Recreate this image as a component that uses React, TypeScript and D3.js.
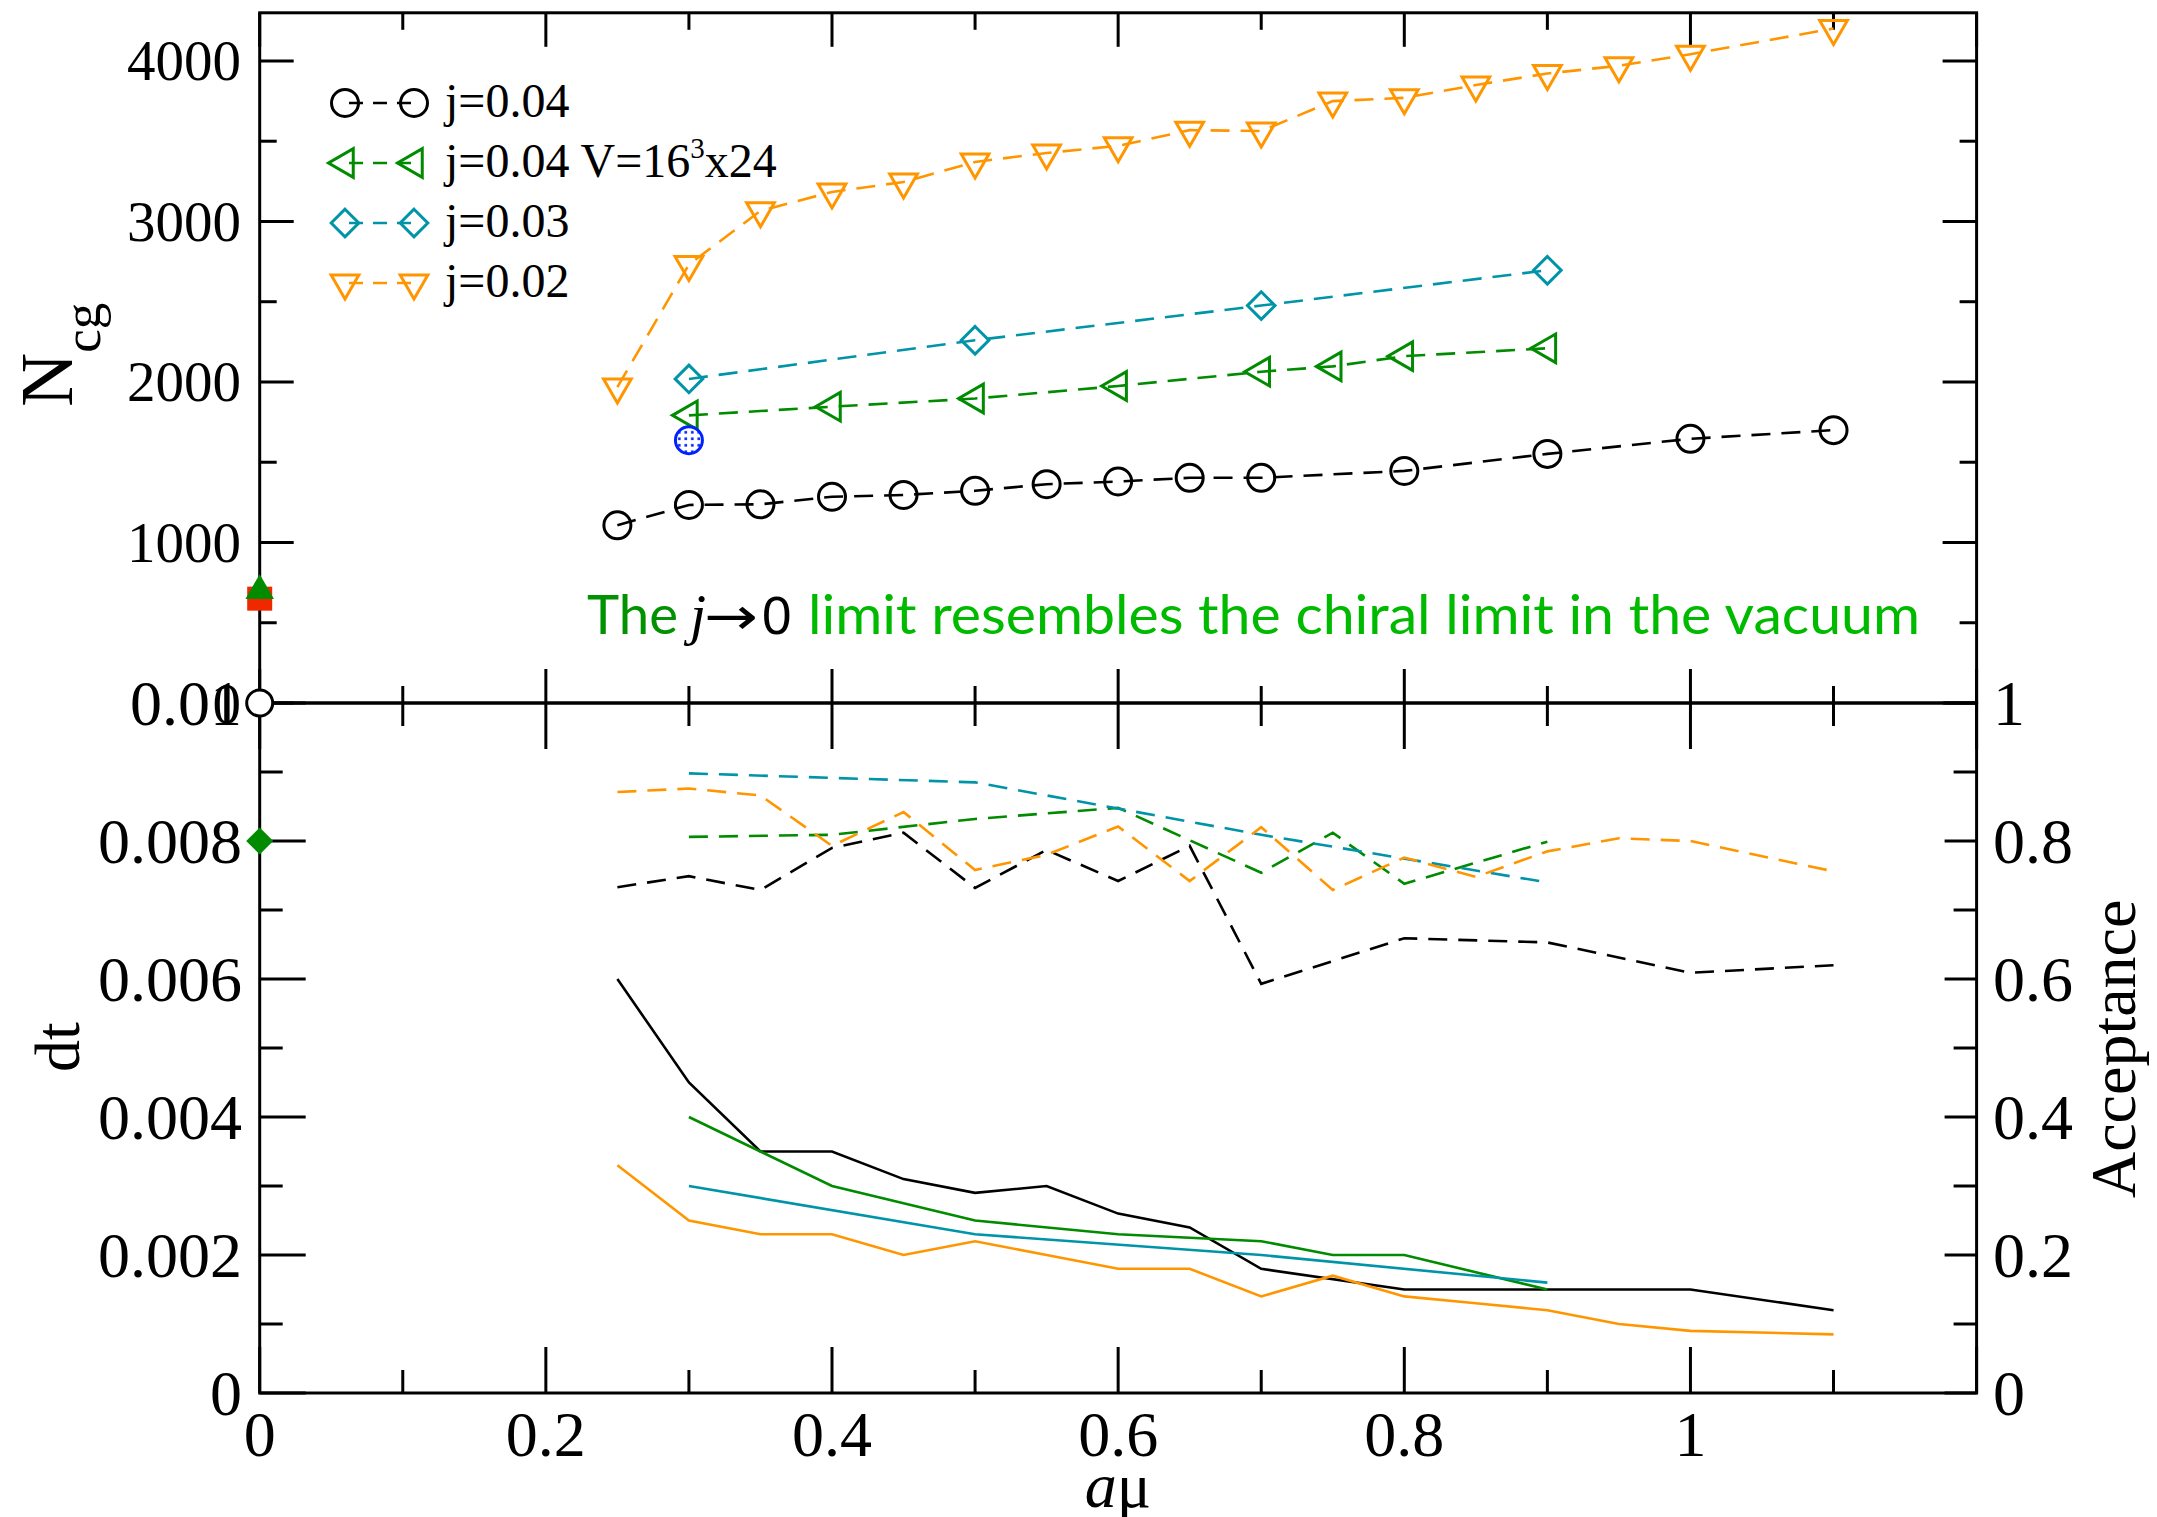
import React from 'react';
import * as d3 from 'd3';

// ---------------- data ----------------
const muJ04 = [0.25, 0.3, 0.35, 0.4, 0.45, 0.5, 0.55, 0.6, 0.65, 0.7, 0.8, 0.9, 1.0, 1.1];
const ncgJ04 = [1107, 1234, 1238, 1285, 1296, 1322, 1363, 1380, 1403, 1403, 1446, 1552, 1646, 1700];
const dtJ04 = [0.006, 0.0045, 0.0035, 0.0035, 0.0031, 0.0029, 0.003, 0.0026, 0.0024, 0.0018, 0.0015, 0.0015, 0.0015, 0.0012];
const accJ04 = [0.733, 0.749, 0.729, 0.79, 0.812, 0.732, 0.787, 0.742, 0.793, 0.593, 0.659, 0.653, 0.609, 0.62];

const muV = [0.3, 0.4, 0.5, 0.6, 0.7, 0.75, 0.8, 0.9];
const ncgV = [1792, 1846, 1897, 1975, 2064, 2097, 2161, 2210];
const dtV = [0.004, 0.003, 0.0025, 0.0023, 0.0022, 0.002, 0.002, 0.0015];
const accV = [0.806, 0.809, 0.832, 0.848, 0.754, 0.812, 0.738, 0.799];

const muJ03 = [0.3, 0.5, 0.7, 0.9];
const ncgJ03 = [2019, 2260, 2476, 2696];
const dtJ03 = [0.003, 0.0023, 0.002, 0.0016];
const accJ03 = [0.898, 0.885, 0.809, 0.74];

const muJ02 = [0.25, 0.3, 0.35, 0.4, 0.45, 0.5, 0.55, 0.6, 0.65, 0.7, 0.75, 0.8, 0.85, 0.9, 0.95, 1.0, 1.1];
const ncgJ02 = [1968, 2732, 3066, 3184, 3246, 3371, 3427, 3471, 3569, 3563, 3750, 3770, 3850, 3922, 3970, 4042, 4202];
const dtJ02 = [0.0033, 0.0025, 0.0023, 0.0023, 0.002, 0.0022, 0.002, 0.0018, 0.0018, 0.0014, 0.0017, 0.0014, 0.0013, 0.0012, 0.001, 0.0009, 0.00085];
const accJ02 = [0.871, 0.876, 0.866, 0.793, 0.842, 0.758, 0.78, 0.821, 0.742, 0.82, 0.729, 0.776, 0.748, 0.785, 0.804, 0.8, 0.756];

// single extra points
const vacuumSquare = { mu: 0, ncg: 650 };
const vacuumTriangle = { mu: 0, ncg: 700 };
const zeroCircle = { mu: 0, ncg: 0 };
const blueCircle = { mu: 0.3, ncg: 1637 };
const dtDiamond = { mu: 0, dt: 0.008 };

const legendLabels = ['j=0.04', 'j=0.04 V=16', 'j=0.03', 'j=0.02'];

// ---------------- styles ----------------
const W = 2157, H = 1517;
const X0 = 259.7, X1 = 1976.6, YT = 12.8, YM = 703, YB = 1393;
const BLACK = '#000000';
const GREEN = '#008b00';
const CYAN = '#0094a8';
const ORANGE = '#ff9600';
const SERIF = "'Liberation Serif', 'Times New Roman', serif";
const DASH = '19,11';

const triDown = (s: number) => `M${-s * 0.866},${-s / 2}L${s * 0.866},${-s / 2}L0,${s}Z`;
const triUp = (s: number) => `M${-s * 0.866},${s / 2}L${s * 0.866},${s / 2}L0,${-s}Z`;
const triLeft = (s: number) => `M${s / 2},${-s * 0.866}L${s / 2},${s * 0.866}L${-s},0Z`;
const diamond = (s: number) => `M0,${-s}L${s},0L0,${s}L${-s},0Z`;

function Marker({ kind, cx, cy, color }: { kind: string; cx: number; cy: number; color: string }) {
  const common = { fill: 'none', stroke: color, strokeWidth: 3 };
  if (kind === 'circle') return <circle cx={cx} cy={cy} r={13.5} {...common} />;
  if (kind === 'left') return <path transform={`translate(${cx},${cy})`} d={triLeft(16.5)} {...common} />;
  if (kind === 'diamond') return <path transform={`translate(${cx},${cy})`} d={diamond(13.8)} {...common} />;
  return <path transform={`translate(${cx},${cy})`} d={triDown(16)} {...common} />;
}

export default function App() {
  const x = d3.scaleLinear().domain([0, 1.2]).range([X0, X1]);
  const yN = d3.scaleLinear().domain([0, 4300]).range([YM, YT]);
  const yDt = d3.scaleLinear().domain([0, 0.01]).range([YB, YM]);
  const yAcc = d3.scaleLinear().domain([0, 1]).range([YB, YM]);

  const series = [
    { mu: muJ04, ncg: ncgJ04, dt: dtJ04, acc: accJ04, color: BLACK, kind: 'circle' },
    { mu: muV, ncg: ncgV, dt: dtV, acc: accV, color: GREEN, kind: 'left' },
    { mu: muJ03, ncg: ncgJ03, dt: dtJ03, acc: accJ03, color: CYAN, kind: 'diamond' },
    { mu: muJ02, ncg: ncgJ02, dt: dtJ02, acc: accJ02, color: ORANGE, kind: 'down' },
  ];

  const lineN = (s: any) =>
    d3.line<number>().x((_, i) => x(s.mu[i])).y((v) => yN(v))(s.ncg) || '';
  const lineDt = (s: any) =>
    d3.line<number>().x((_, i) => x(s.mu[i])).y((v) => yDt(v))(s.dt) || '';
  const lineAcc = (s: any) =>
    d3.line<number>().x((_, i) => x(s.mu[i])).y((v) => yAcc(v))(s.acc) || '';

  const xTicks = x.ticks(12);
  const isMajorX = (v: number) => Math.round(v * 10) % 2 === 0;
  const nTicks = yN.ticks(9);
  const dtTicks = yDt.ticks(10);
  const accTicks = yAcc.ticks(10);
  const isMajorDt = (v: number) => Math.round(v * 1000) % 2 === 0;
  const isMajorAcc = (v: number) => Math.round(v * 10) % 2 === 0;
  const fmt = (v: number) => (+v.toFixed(4)).toString();

  const tk = { stroke: BLACK, strokeWidth: 3 };

  return (
    <svg width={W} height={H} style={{ position: 'absolute', left: 0, top: 0, background: '#fff' }}>
      <defs>
        <pattern id="bluedots" width={6.5} height={6.5} patternUnits="userSpaceOnUse">
          <rect width={6.5} height={6.5} fill="#fff" />
          <rect x={2} y={2} width={2.6} height={2.6} fill="#0022ff" />
        </pattern>
      </defs>
      <rect width={W} height={H} fill="#fff" />

      {/* ---------- ticks top panel ---------- */}
      {xTicks.map((v) => {
        const len = isMajorX(v) ? 34 : 17;
        const lenB = isMajorX(v) ? 46 : 23;
        return (
          <g key={'xt' + v}>
            <line x1={x(v)} x2={x(v)} y1={YT} y2={YT + len} {...tk} />
            <line x1={x(v)} x2={x(v)} y1={YM} y2={YM - len} {...tk} />
            <line x1={x(v)} x2={x(v)} y1={YM} y2={YM + lenB} {...tk} />
            <line x1={x(v)} x2={x(v)} y1={YB} y2={YB - lenB} {...tk} />
          </g>
        );
      })}
      {nTicks.map((v) => {
        const len = v % 1000 === 0 ? 34 : 17;
        return (
          <g key={'nt' + v}>
            <line x1={X0} x2={X0 + len} y1={yN(v)} y2={yN(v)} {...tk} />
            <line x1={X1} x2={X1 - len} y1={yN(v)} y2={yN(v)} {...tk} />
            {v % 1000 === 0 && (
              <text x={241} y={yN(v) + 19.5} textAnchor="end" fontFamily={SERIF} fontSize={57}>
                {v}
              </text>
            )}
          </g>
        );
      })}
      {dtTicks.map((v) => {
        const major = isMajorDt(v);
        return (
          <g key={'dt' + v}>
            <line x1={X0} x2={X0 + (major ? 46 : 23)} y1={yDt(v)} y2={yDt(v)} {...tk} />
            {major && (
              <text x={242} y={yDt(v) + 21.8} textAnchor="end" fontFamily={SERIF} fontSize={64}>
                {fmt(v)}
              </text>
            )}
          </g>
        );
      })}
      {accTicks.map((v) => {
        const major = isMajorAcc(v);
        return (
          <g key={'ac' + v}>
            <line x1={X1} x2={X1 - (major ? 32 : 23)} y1={yAcc(v)} y2={yAcc(v)} {...tk} />
            {major && (
              <text x={1993} y={yAcc(v) + 21.8} fontFamily={SERIF} fontSize={64}>
                {fmt(v)}
              </text>
            )}
          </g>
        );
      })}
      {xTicks.filter((v) => isMajorX(v) && v < 1.1).map((v) => (
        <text key={'xl' + v} x={x(v)} y={1456} textAnchor="middle" fontFamily={SERIF} fontSize={64}>
          {fmt(v)}
        </text>
      ))}

      {/* ---------- frames ---------- */}
      <rect x={X0} y={YT} width={X1 - X0} height={YM - YT} fill="none" stroke={BLACK} strokeWidth={3} />
      <rect x={X0} y={YM} width={X1 - X0} height={YB - YM} fill="none" stroke={BLACK} strokeWidth={3} />

      {/* ---------- top panel data ---------- */}
      {series.map((s, i) => (
        <path key={'ln' + i} d={lineN(s)} fill="none" stroke={s.color} strokeWidth={2.6} strokeDasharray={DASH} />
      ))}
      {series.map((s, i) =>
        s.ncg.map((v, j) => <Marker key={`m${i}-${j}`} kind={s.kind} cx={x(s.mu[j])} cy={yN(v)} color={s.color} />)
      )}
      <rect
        x={x(vacuumSquare.mu) - 12.5}
        y={yN(vacuumSquare.ncg) - 12}
        width={25}
        height={24}
        fill="#f02800"
      />
      <path
        transform={`translate(${x(vacuumTriangle.mu)},${yN(vacuumTriangle.ncg)})`}
        d={triUp(16.5)}
        fill={GREEN}
      />
      <circle cx={x(zeroCircle.mu)} cy={yN(zeroCircle.ncg)} r={13} fill="#fff" stroke={BLACK} strokeWidth={3} />
      <circle cx={x(blueCircle.mu)} cy={yN(blueCircle.ncg)} r={13.5} fill="url(#bluedots)" stroke="#0022ff" strokeWidth={3} />

      {/* ---------- bottom panel data ---------- */}
      {series.map((s, i) => (
        <path key={'ac' + i} d={lineAcc(s)} fill="none" stroke={s.color} strokeWidth={2.6} strokeDasharray={DASH} />
      ))}
      {series.map((s, i) => (
        <path key={'dtl' + i} d={lineDt(s)} fill="none" stroke={s.color} strokeWidth={2.6} />
      ))}
      <path transform={`translate(${x(dtDiamond.mu)},${yDt(dtDiamond.dt)})`} d={diamond(13.5)} fill={GREEN} />

      {/* ---------- legend ---------- */}
      {series.map((s, i) => {
        const ly = 103 + i * 60;
        return (
          <g key={'lg' + i}>
            <line x1={345} x2={414} y1={ly} y2={ly} stroke={s.color} strokeWidth={2.6} strokeDasharray="14,10" strokeDashoffset={-4} />
            <Marker kind={s.kind} cx={345} cy={ly} color={s.color} />
            <Marker kind={s.kind} cx={414} cy={ly} color={s.color} />
            <text x={445} y={ly + 14} fontFamily={SERIF} fontSize={48}>
              {legendLabels[i]}
              {i === 1 && (
                <>
                  <tspan fontSize={29} dy={-19}>3</tspan>
                  <tspan dy={19}>x24</tspan>
                </>
              )}
            </text>
          </g>
        );
      })}

      {/* ---------- annotation ---------- */}
      <text x={587} y={634} fontFamily="'Comic Sans MS', Lato, 'Open Sans', sans-serif" fontSize={54} fill="#009200" textLength={91} lengthAdjust="spacingAndGlyphs">
        The
      </text>
      <text x={690} y={634} fontFamily={SERIF} fontStyle="italic" fontSize={58} fill={BLACK}>
        j
      </text>
      <text x={704} y={634} fontFamily="'DejaVu Sans', sans-serif" fontSize={52} fill={BLACK} textLength={54} lengthAdjust="spacingAndGlyphs">
        →
      </text>
      <text x={762} y={634} fontFamily="'Liberation Sans', sans-serif" fontSize={53} fill={BLACK}>
        0
      </text>
      <text x={808} y={634} fontFamily="'Comic Sans MS', Lato, 'Open Sans', sans-serif" fontSize={54} fill="#00ba00" textLength={1112} lengthAdjust="spacingAndGlyphs">
        limit resembles the chiral limit in the vacuum
      </text>

      {/* ---------- axis titles ---------- */}
      <text transform="translate(72,407) rotate(-90)" fontFamily={SERIF} fontSize={75}>
        N<tspan fontSize={53} dy={28}>cg</tspan>
      </text>
      <text transform="translate(79,1072) rotate(-90)" fontFamily={SERIF} fontSize={64}>
        dt
      </text>
      <text transform="translate(2135,1198) rotate(-90)" fontFamily={SERIF} fontSize={64}>
        Acceptance
      </text>
      <text x={1118} y={1507} textAnchor="middle" fontFamily={SERIF} fontSize={64}>
        <tspan fontStyle="italic">a</tspan>μ
      </text>
    </svg>
  );
}
